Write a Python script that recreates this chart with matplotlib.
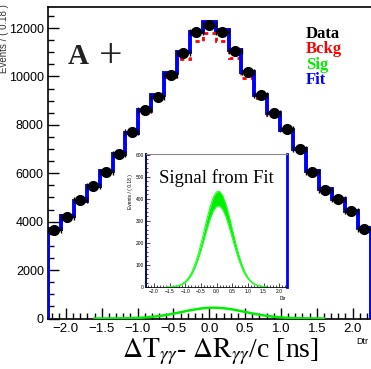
import matplotlib
matplotlib.use("Agg")
import matplotlib.pyplot as plt
from matplotlib.ticker import MultipleLocator
import numpy as np

plt.rcParams['font.family'] = ['Liberation Sans', 'DejaVu Sans']
plt.rcParams['mathtext.fontset'] = 'stix'

# binning: 25 bins of 0.18 from -2.25 to 2.25
bin_lo = -2.25
bin_w = 0.18
n_bins = 25

data = [3644, 4194, 4886, 5466, 6033, 6791, 7714, 8613, 9164, 10075, 10985, 11855,
        12132, 11855, 11068, 10174, 9234, 8500, 7813, 6998, 6033, 5300, 4956, 4443, 3714]
fit = [3700, 4230, 4850, 5480, 6100, 6800, 7680, 8600, 9250, 10150, 11000, 11850,
       12250, 11900, 11100, 10200, 9250, 8500, 7800, 7000, 6100, 5350, 4950, 4450, 3720]
bckg = [3700, 4230, 4850, 5480, 6100, 6798, 7664, 8558, 9157, 9974, 10717, 11465,
        11807, 11469, 10746, 9953, 9105, 8428, 7770, 6990, 6098, 5350, 4950, 4450, 3720]

# signal shape sampled every 0.1 from -1.6 to 1.6
sig_x = [-1.6, -1.5, -1.4, -1.3, -1.2, -1.1, -1.0, -0.9, -0.8, -0.7, -0.6, -0.5, -0.4,
         -0.3, -0.2, -0.1, 0.0, 0.1, 0.2, 0.3, 0.4, 0.5, 0.6, 0.7, 0.8, 0.9, 1.0, 1.1,
         1.2, 1.3, 1.4, 1.5, 1.6]
sig_main = [0.4, 0.8, 1.9, 3.8, 7.4, 13.9, 24.6, 41.5, 66.3, 100.8, 145.4, 199.4, 259.5,
            320.6, 376.4, 419.4, 444.0, 446.2, 425.9, 386.3, 332.4, 271.7, 211.0, 155.5,
            108.9, 72.4, 45.7, 27.4, 15.7, 8.4, 4.3, 2.2, 1.0]
sig_hi = [0.35, 0.8, 1.8, 3.7, 7.2, 13.5, 23.9, 40.3, 64.4, 97.9, 141.2, 193.6, 251.9,
          311.3, 365.4, 407.2, 431.0, 433.2, 413.5, 375.0, 322.7, 263.8, 204.9, 151.0,
          105.7, 70.3, 44.4, 26.6, 15.2, 8.2, 4.2, 2.1, 1.0]
sig_lo = [0.3, 0.7, 1.5, 3.1, 6.1, 11.5, 20.3, 34.3, 54.7, 83.2, 120.0, 164.6, 214.1,
          264.6, 310.6, 346.1, 366.4, 368.2, 351.5, 318.8, 274.3, 224.2, 174.2, 128.4,
          89.8, 59.8, 37.7, 22.6, 12.9, 7.0, 3.6, 1.8, 0.9]

legend_names = ["Data", "Bckg", "Sig", "Fit"]
legend_colors = ["black", "red", "#00ee00", "blue"]

edges = bin_lo + bin_w * np.arange(n_bins + 1)
centers = 0.5 * (edges[:-1] + edges[1:])

fig = plt.figure(figsize=(3.71, 3.69), dpi=100)
ax = fig.add_axes([48 / 371, (369 - 318.5) / 369, 322.5 / 371, 311.5 / 369])

ax.stairs(bckg, edges, color='red', lw=2.0, ls=(0, (1.5, 1.5)), baseline=0, zorder=2)
ax.stairs(fit, edges, color='blue', lw=2.8, baseline=0, zorder=3)
ax.plot(sig_x, sig_main, color='#00ee00', lw=1.8, zorder=3)
ax.errorbar(centers, data, xerr=bin_w / 2, yerr=np.sqrt(data), fmt='o', color='black',
            ms=7, elinewidth=1.0, capsize=2, capthick=1.0, zorder=4)

ax.set_xlim(-2.25, 2.25)
ax.set_ylim(0, 12870)
ax.xaxis.set_major_locator(MultipleLocator(0.5))
ax.xaxis.set_minor_locator(MultipleLocator(0.1))
ax.yaxis.set_major_locator(MultipleLocator(2000))
ax.yaxis.set_minor_locator(MultipleLocator(500))
ax.tick_params(which='both', direction='in', labelsize=9.5, top=False, right=False)
ax.tick_params(axis='y', labelsize=9)
ax.tick_params(which='major', length=8, width=1.0, pad=3)
ax.tick_params(which='minor', length=4, width=1.0)
ax.spines['right'].set_visible(False)
for s in ['top', 'left', 'bottom']:
    ax.spines[s].set_linewidth(1.2)

fig.text(4 / 371, 1 - 4 / 369, "Events / ( 0.18 )", rotation=90, ha='center', va='top',
         fontsize=7, color='#333333')
fig.text(362 / 371, 1 - 342 / 369, "Dtr", ha='center', va='center', fontsize=6.5)
fig.text(220 / 371, 1 - 352 / 369,
         r"$\mathit{\Delta}\mathrm{T}_{\gamma\gamma}$- $\mathit{\Delta}\mathrm{R}_{\gamma\gamma}$/c [ns]",
         ha='center', va='center', fontsize=20, family='Liberation Serif')

fig.text(68 / 371, 1 - 57 / 369, "A", fontsize=21, family='Liberation Serif',
         fontweight='bold', color='#222222', va='center', ha='left')
fig.text(111 / 371, 1 - 57 / 369, "+", fontsize=30, family='Liberation Serif',
         color='#222222', va='center', ha='center')
for i, (name, col) in enumerate(zip(legend_names, legend_colors)):
    fig.text(306 / 371, 1 - (34 + i * 15.3) / 369, name, color=col, fontsize=12,
             family='Liberation Serif', fontweight='bold', va='center')

# inset with the fitted signal
axi = fig.add_axes([146 / 371, (369 - 287) / 369, 141 / 371, 133 / 369])
axi.fill_between(sig_x, sig_lo, sig_hi, color='#00ee00', lw=0)
axi.plot(sig_x, sig_lo, color='#22ff22', lw=0.8)
axi.plot(sig_x, sig_hi, color='#22ff22', lw=0.8)
axi.set_xlim(-2.25, 2.25)
axi.set_ylim(0, 603)
axi.xaxis.set_major_locator(MultipleLocator(0.5))
axi.xaxis.set_minor_locator(MultipleLocator(0.1))
axi.yaxis.set_major_locator(MultipleLocator(100))
axi.yaxis.set_minor_locator(MultipleLocator(20))
axi.tick_params(which='both', direction='in', labelsize=3.5, pad=1.5)
axi.tick_params(which='major', length=3, width=0.5)
axi.tick_params(which='minor', length=1.5, width=0.5)
axi.spines['left'].set_color('#000099')
axi.spines['left'].set_linewidth(1.4)
axi.spines['right'].set_color('blue')
axi.spines['right'].set_linewidth(2.0)
axi.spines['top'].set_color('#888888')
axi.spines['top'].set_linewidth(0.8)
axi.spines['bottom'].set_linewidth(0.6)
axi.set_ylabel("Events / ( 0.18 )", fontsize=3.5, labelpad=2)
axi.yaxis.set_label_coords(-0.09, 0.72)
axi.text(0.5, 0.82, "Signal from Fit", transform=axi.transAxes, ha='center', va='center',
         fontsize=13.5, family='Liberation Serif')
fig.text(283 / 371, 1 - 299 / 369, "Dtr", ha='center', va='center', fontsize=3.5)

fig.savefig("out.png", dpi=100)
